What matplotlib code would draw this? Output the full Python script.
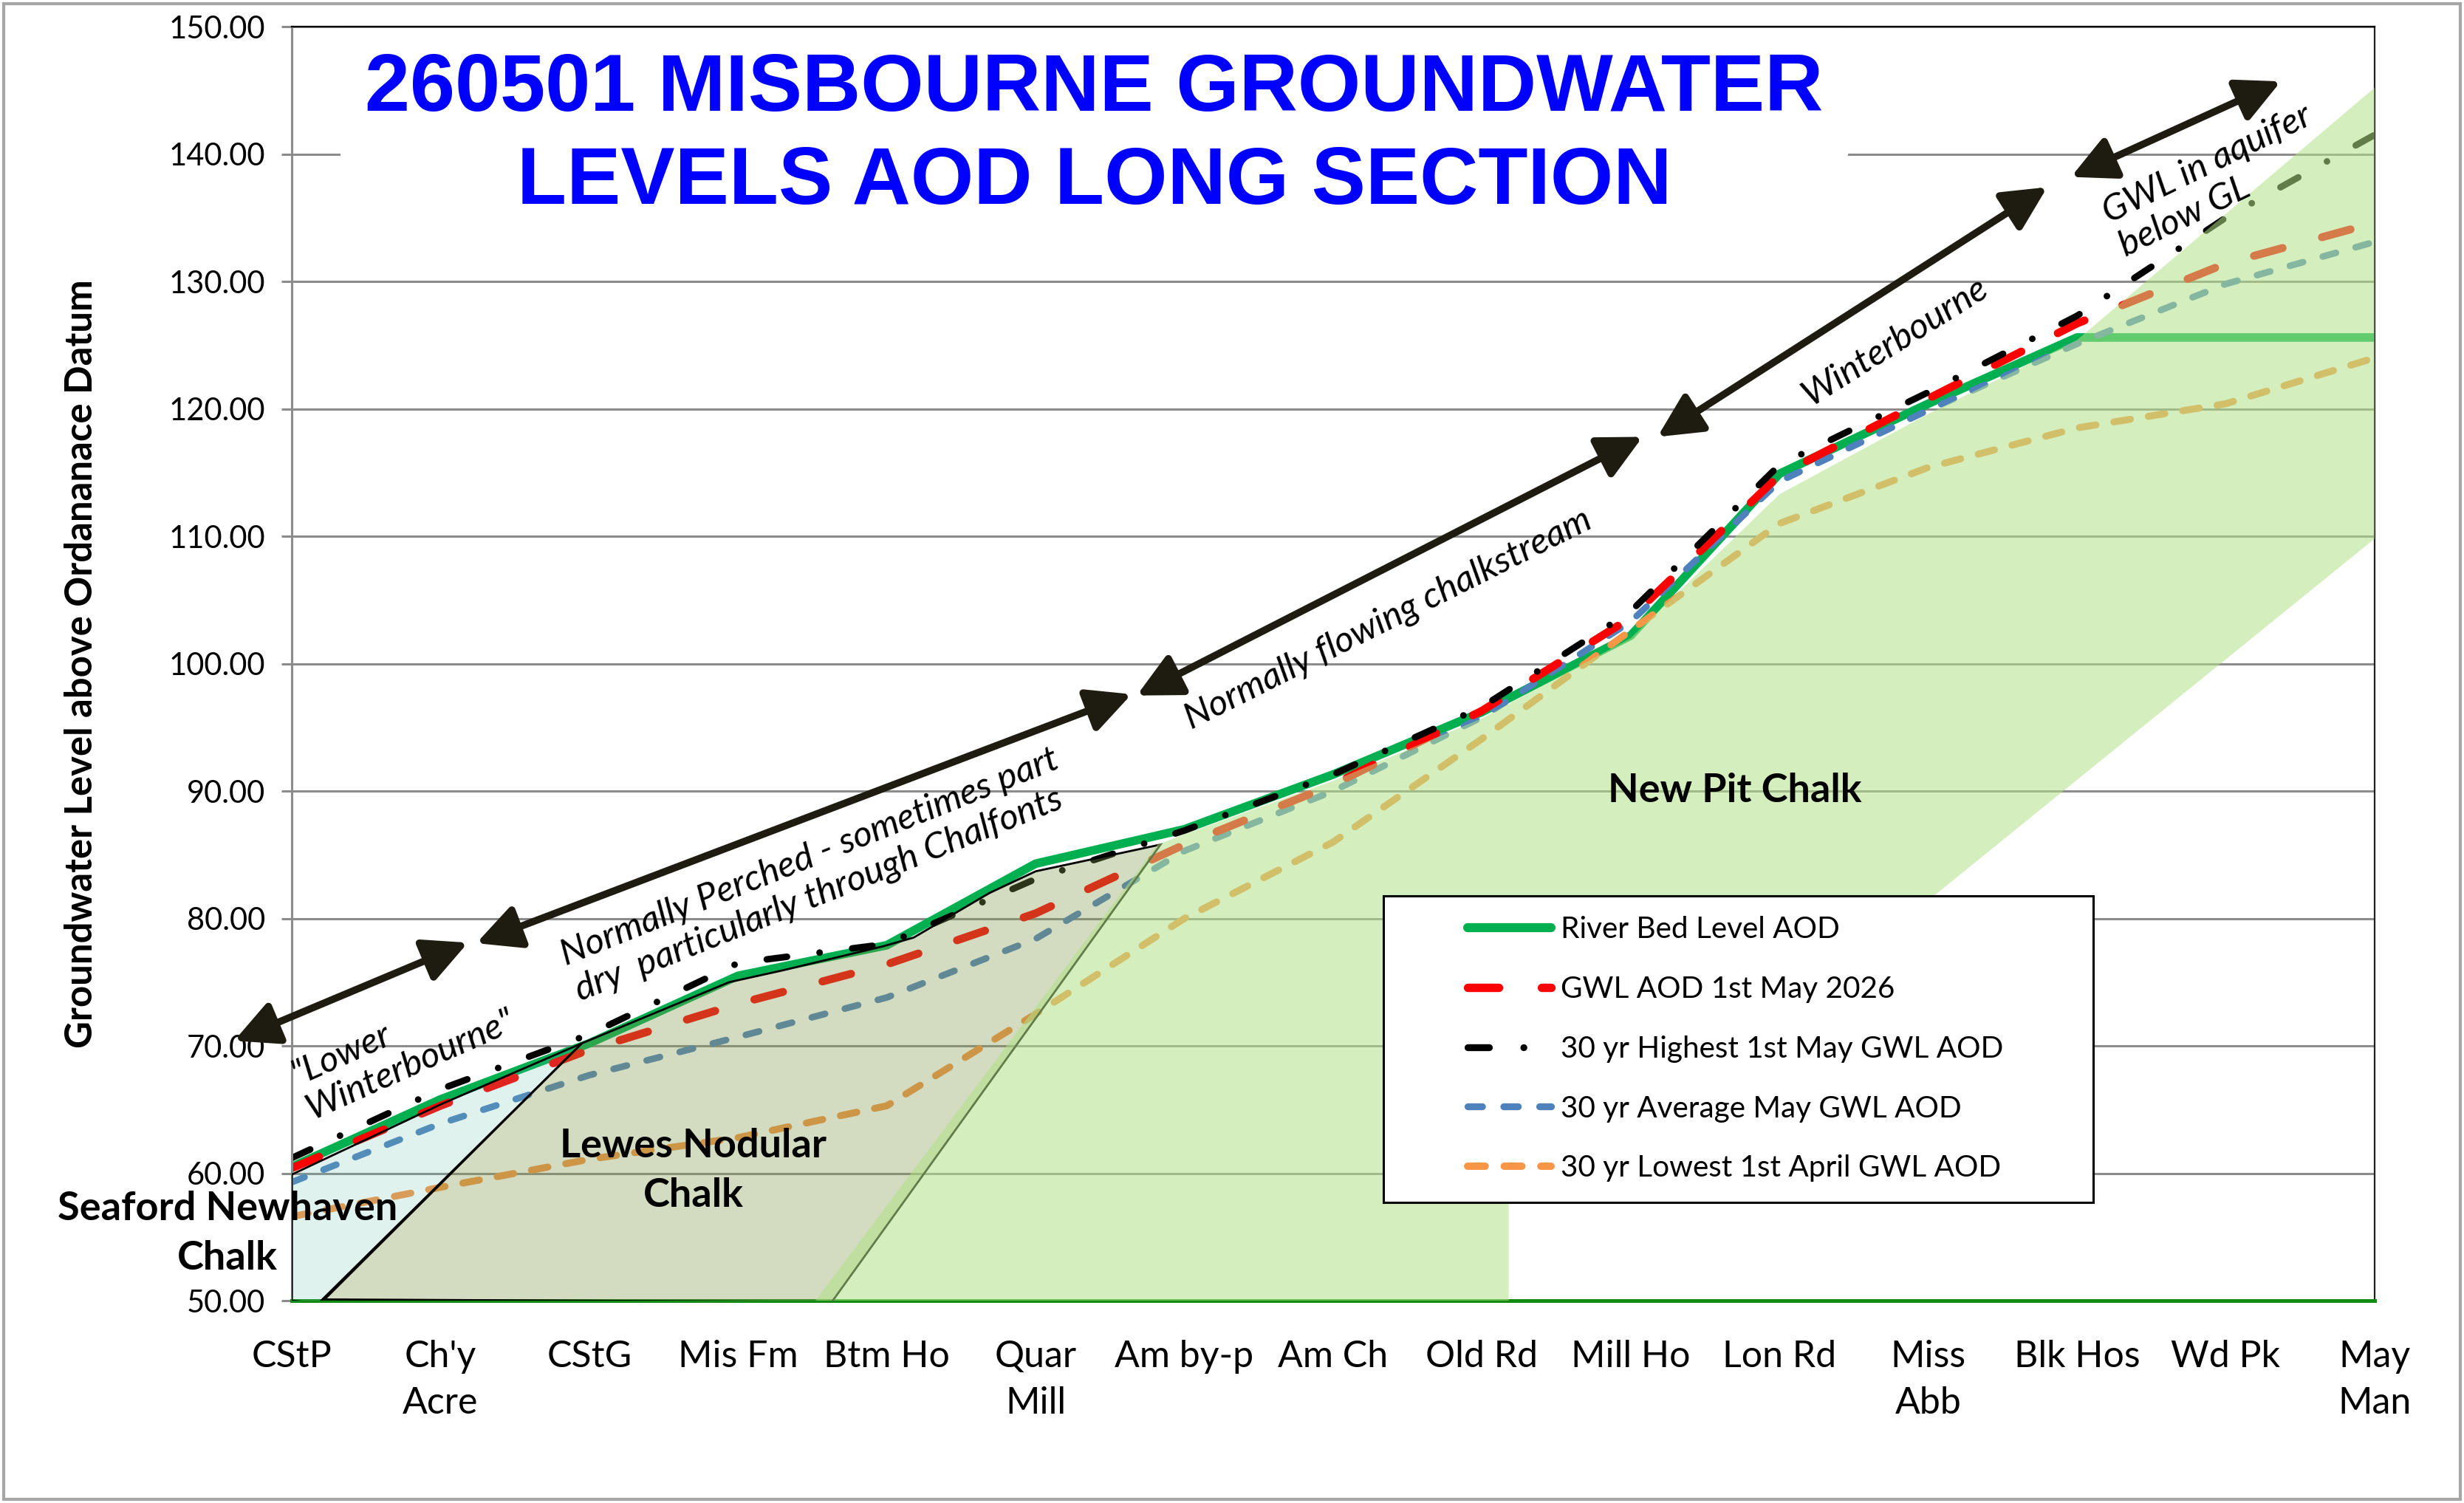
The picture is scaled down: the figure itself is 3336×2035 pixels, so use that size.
import matplotlib
matplotlib.use("Agg")
import matplotlib.pyplot as plt
from matplotlib.lines import Line2D
from matplotlib.patches import Rectangle

# categories along the river (upstream to the right)
sites = ["CStP", "Ch'y\nAcre", "CStG", "Mis Fm", "Btm Ho", "Quar\nMill", "Am by-p", "Am Ch",
         "Old Rd", "Mill Ho", "Lon Rd", "Miss\nAbb", "Blk Hos", "Wd Pk", "May\nMan"]

river_bed = [60.5, 65.8, 70.2, 75.5, 77.9, 84.3, 87.0, 91.3, 96.2, 102.2, 114.9, 120.4, 125.6, 125.6, 125.6]
gwl_2026 = [60.4, 65.3, 69.7, 73.3, 76.4, 80.4, 85.8, 90.5, 96.3, 103.6, 114.8, 120.8, 126.7, 131.4, 134.6]
gwl_high = [61.2, 66.6, 70.9, 76.5, 78.0, 83.1, 86.9, 91.3, 96.6, 104.1, 115.6, 121.3, 127.3, 135.0, 141.5]
gwl_avg = [59.3, 63.9, 67.7, 70.7, 73.8, 78.4, 85.3, 90.0, 95.8, 103.3, 114.3, 119.9, 125.1, 129.8, 133.1]
gwl_low = [56.6, 58.9, 61.1, 62.8, 65.3, 72.5, 80.0, 86.0, 94.1, 102.6, 111.0, 115.4, 118.5, 120.4, 124.0]

series_labels = ["River Bed Level AOD", "GWL AOD 1st May 2026", "30 yr Highest 1st May GWL AOD",
                 "30 yr Average May GWL AOD", "30 yr Lowest 1st April GWL AOD"]

# geology outlines (category position, level AOD)
seaford_x = [0, 0, 1, 1.95, 0.18]
seaford_y = [50, 59.9, 65.4, 70.2, 49.8]
lewes_x = [0.22, 1.95, 2.94, 3.29, 3.97, 4.18, 4.69, 5.0, 5.84, 3.63]
lewes_y = [50.1, 70.2, 75.0, 75.9, 77.8, 78.5, 82.0, 83.7, 85.8, 49.9]
newpit_x = [3.52, 5.82, 6, 7, 8, 9, 10, 11, 12, 14, 14, 11.03, 9.0, 8.18, 8.18]
newpit_y = [50, 85.8, 86.6, 90.8, 95.7, 102.0, 113.3, 119.6, 125.4, 145.2, 109.8, 81.7, 63.0, 58.3, 50]

# reach arrows (start / end)
arrow_x0 = [-0.387, 1.241, 5.68, 9.18, 11.96]
arrow_y0 = [70.4, 78.06, 97.5, 117.8, 138.2]
arrow_x1 = [1.184, 5.645, 9.08, 11.80, 13.37]
arrow_y1 = [78.1, 97.6, 117.8, 137.4, 145.7]

reach_notes = ['"Lower\nWinterbourne"',
               "Normally Perched - sometimes part\ndry  particularly through Chalfonts",
               "Normally flowing chalkstream",
               "Winterbourne",
               "GWL in aquifer\nbelow GL"]
reach_pos = [(0.75, 69.9), (3.53, 83.4), (7.37, 103.5), (10.78, 125.3), (12.93, 137.9)]
reach_rot = [24, 21.8, 26.7, 32.1, 26.1]

geo_labels = ["Seaford Newhaven\nChalk", "Lewes Nodular\nChalk", "New Pit Chalk"]
geo_pos = [(-0.43, 55.3), (2.70, 60.2), (9.70, 90.06)]

FONT = "Lato"
plt.rcParams["font.family"] = [FONT, "DejaVu Sans"]

fig = plt.figure(figsize=(16.68, 10.175), dpi=200)
ax = fig.add_axes([0.1184, 0.1346, 0.8453, 0.8477])

x = list(range(len(sites)))

styles = [
    dict(color="#00b050", lw=4.2, ls="-"),
    dict(color="#ff0000", lw=3.9, ls=(0, (3.7, 5.1))),
    dict(color="#000000", lw=3.2, ls=(0, (3.1, 5.0, 0.01, 5.0))),
    dict(color="#4f81bd", lw=3.2, ls=(0, (2.1, 3.1))),
    dict(color="#f79646", lw=3.4, ls=(0, (2.4, 2.6))),
]
data = [river_bed, gwl_2026, gwl_high, gwl_avg, gwl_low]
z_order = [2.0, 2.3, 2.4, 2.2, 2.1]
handles = []
for vals, st, z, lab in zip(data, styles, z_order, series_labels):
    ax.plot(x, vals, color=st["color"], lw=st["lw"], ls=st["ls"], zorder=z,
            dash_capstyle="round", solid_capstyle="butt")
    handles.append(Line2D([], [], color=st["color"], lw=st["lw"] * 1.05, ls=st["ls"],
                          dash_capstyle="round", solid_capstyle="round", label=lab))

# geology, semi-transparent on top of the lines
ax.fill(seaford_x, seaford_y, facecolor=(100/255, 190/255, 170/255, 0.2), edgecolor="black", lw=1.0, zorder=3)
ax.fill(lewes_x, lewes_y, facecolor=(129/255, 152/255, 75/255, 0.35), edgecolor="black", lw=1.0, zorder=3.1)
ax.fill(newpit_x, newpit_y, facecolor=(178/255, 226/255, 135/255, 0.55), edgecolor="none", zorder=3.2)

ax.set_xlim(0, 14)
ax.set_ylim(50, 150)

ax.set_yticks(range(50, 151, 10))
ax.set_yticklabels([f"{v:.2f}" for v in range(50, 151, 10)])
ax.set_xticks(x)
ax.set_xticklabels(sites, fontsize=18, linespacing=1.45)
ax.set_xticks([0, 12], minor=True)
ax.tick_params(axis="x", which="major", length=0, pad=19)
ax.tick_params(axis="x", which="minor", length=8, width=1.8, color="#138a13")
ax.tick_params(axis="y", labelsize=15, length=5, width=1.1, color="#8c8c8c", pad=8)

ax.set_axisbelow(True)
ax.grid(axis="y", color="#8c8c8c", lw=1.1)
ax.grid(axis="x", which="minor", color="#8c8c8c", lw=1.1)

ax.spines["left"].set_color("#8c8c8c")
ax.spines["left"].set_linewidth(1.1)
ax.spines["bottom"].set_color("#138a13")
ax.spines["bottom"].set_linewidth(1.8)
ax.spines["top"].set_color("black")
ax.spines["top"].set_linewidth(0.8)
ax.spines["right"].set_color("#202020")
ax.spines["right"].set_linewidth(0.8)

fig.text(0.033, 0.5583, "Groundwater Level above Ordananace Datum", rotation=90,
         ha="center", va="center", fontsize=18.3, fontweight="bold")

# title sits in a white box that hides the grid behind it
ax.text(0.3853, 0.9135, "260501 MISBOURNE GROUNDWATER\nLEVELS AOD LONG SECTION",
        transform=ax.transAxes, ha="center", va="center", fontsize=39.5, fontweight="bold",
        color="#0000ff", family="Liberation Sans", linespacing=1.3, zorder=2.45,
        bbox=dict(facecolor="white", edgecolor="none", pad=12))

for (tx, ty), note, rot in zip(reach_pos, reach_notes, reach_rot):
    ax.text(tx, ty, note, rotation=rot, rotation_mode="anchor", ha="center", va="center",
            multialignment="left", fontsize=17.8, style="italic", zorder=7, clip_on=False)

for (gx, gy), lab in zip(geo_pos, geo_labels):
    ax.text(gx, gy, lab, ha="center", va="center", fontsize=19.5, fontweight="bold",
            linespacing=1.45, zorder=7, clip_on=False)

for xa, ya, xb, yb in zip(arrow_x0, arrow_y0, arrow_x1, arrow_y1):
    ax.annotate("", xy=(xb, yb), xytext=(xa, ya), annotation_clip=False, zorder=8,
                arrowprops=dict(arrowstyle="<|-|>,head_length=0.6,head_width=0.3",
                                mutation_scale=30, lw=3.5, color="#1e1b10",
                                shrinkA=0, shrinkB=0))

# legend box
ax.add_patch(Rectangle((0.524, 0.077), 0.341, 0.241, transform=ax.transAxes,
                       facecolor="white", edgecolor="black", lw=1.1, zorder=5))
ax.legend(handles=handles, loc="upper left", bbox_to_anchor=(0.5645, 0.302),
          frameon=False, fontsize=14.6, handlelength=2.8, handletextpad=0.3,
          labelspacing=1.08, borderpad=0, borderaxespad=0).set_zorder(6)

fig.add_artist(Rectangle((0.0015, 0.0025), 0.997, 0.995, transform=fig.transFigure,
                         fill=False, edgecolor="#a6a6a6", lw=1.5))

fig.savefig("out.png", dpi=200)
